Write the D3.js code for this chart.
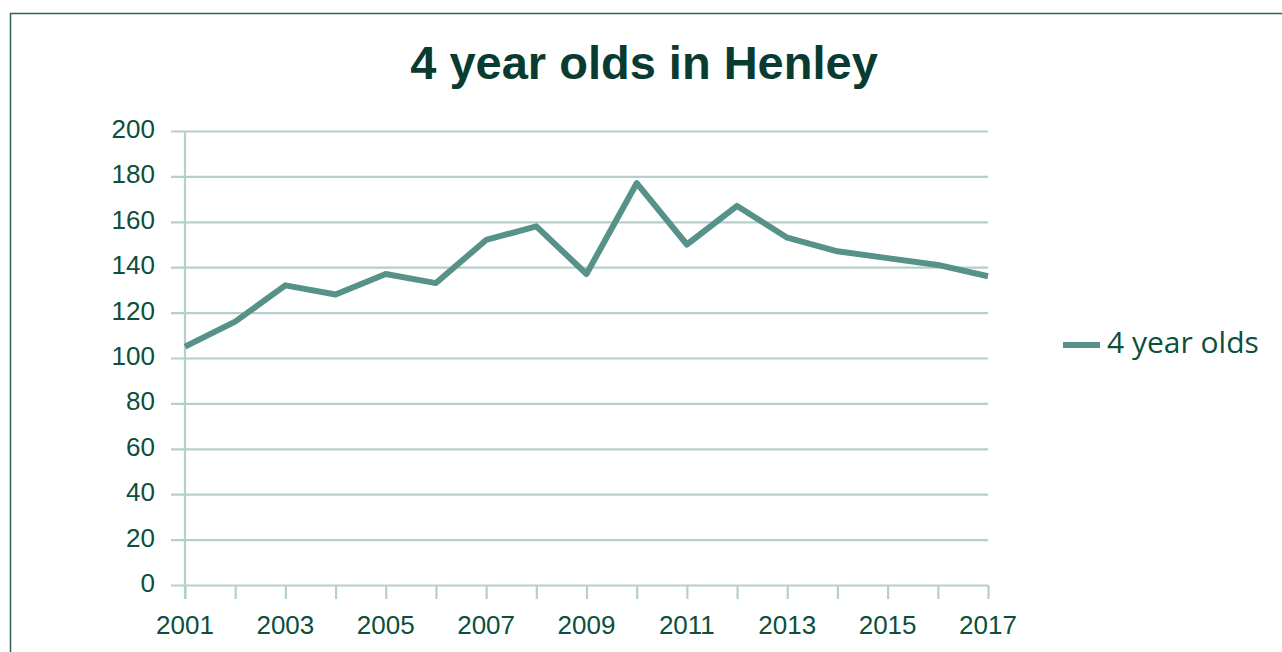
<!DOCTYPE html>
<html>
<head>
<meta charset="utf-8">
<script src="https://cdn.jsdelivr.net/npm/d3@7"></script>
<style>
  body { margin: 0; background: #fff; }
  svg { display: block; }
</style>
</head>
<body>
<div id="chart"></div>
<script>
const years = [2001, 2002, 2003, 2004, 2005, 2006, 2007, 2008, 2009, 2010, 2011, 2012, 2013, 2014, 2015, 2016, 2017];
const fourYearOlds = [105, 116, 132, 128, 137, 133, 152, 158, 137, 177, 150, 167, 153, 147, 144, 141, 136];
const yTicks = [0, 20, 40, 60, 80, 100, 120, 140, 160, 180, 200];
const yearLabels = [2001, 2003, 2005, 2007, 2009, 2011, 2013, 2015, 2017];
const seriesName = "4 year olds";
const title = "4 year olds in Henley";

const width = 1282, height = 652;
const margin = { top: 131, right: 294, bottom: 67, left: 185 };

const textColor = "#0b4f3c";
const gridColor = "#b5d0ca";
const lineColor = "#56918a";

const svg = d3.select("#chart")
  .append("svg")
  .attr("width", width)
  .attr("height", height);

// frame
svg.append("rect")
  .attr("x", 10.5)
  .attr("y", 13.5)
  .attr("width", width)
  .attr("height", height)
  .attr("fill", "none")
  .attr("stroke", "#2f5f58")
  .attr("stroke-width", 1.5);

svg.append("text")
  .attr("x", 644)
  .attr("y", 79)
  .attr("text-anchor", "middle")
  .attr("font-family", "Liberation Sans, Arial, sans-serif")
  .attr("font-weight", "bold")
  .attr("font-size", 47)
  .attr("fill", "#0a3b31")
  .text(title);

const x = d3.scaleLinear()
  .domain(d3.extent(years))
  .range([margin.left, width - margin.right]);

const y = d3.scaleLinear()
  .domain([0, 200])
  .range([height - margin.bottom, margin.top]);

// horizontal gridlines with left tick stubs
svg.append("g")
    .attr("transform", `translate(${margin.left},0)`)
    .call(d3.axisLeft(y).tickValues(yTicks).tickSize(-(x.range()[1] - x.range()[0])).tickFormat(""))
    .call(g => g.select(".domain").remove())
    .call(g => g.selectAll(".tick line")
      .attr("x1", -14)
      .attr("stroke", gridColor)
      .attr("stroke-width", 2.2));

// y labels
svg.append("g")
  .selectAll("text")
  .data(yTicks)
  .join("text")
    .attr("x", 155)
    .attr("y", d => y(d) + 7)
    .attr("text-anchor", "end")
    .attr("font-family", "Liberation Sans, Arial, sans-serif")
    .attr("font-size", 26)
    .attr("fill", textColor)
    .text(d => d);

// vertical axis line
svg.append("line")
  .attr("x1", margin.left).attr("x2", margin.left)
  .attr("y1", y(200)).attr("y2", y(0) + 14)
  .attr("stroke", gridColor)
  .attr("stroke-width", 2.2);

// x ticks
svg.append("g")
  .attr("transform", `translate(0,${y(0)})`)
  .call(d3.axisBottom(x).tickValues(years).tickSize(14).tickFormat(""))
  .call(g => g.select(".domain").remove())
  .call(g => g.selectAll(".tick line").attr("stroke", gridColor).attr("stroke-width", 2.2));

svg.append("g")
  .selectAll("text")
  .data(yearLabels)
  .join("text")
    .attr("x", d => x(d))
    .attr("y", 634)
    .attr("text-anchor", "middle")
    .attr("font-family", "Liberation Sans, Arial, sans-serif")
    .attr("font-size", 26)
    .attr("fill", textColor)
    .text(d => d);

const line = d3.line()
  .x((d, i) => x(years[i]))
  .y(d => y(d));

svg.append("path")
  .datum(fourYearOlds)
  .attr("fill", "none")
  .attr("stroke", lineColor)
  .attr("stroke-width", 6)
  .attr("stroke-linejoin", "round")
  .attr("d", line);

// legend
const legend = svg.append("g").attr("transform", "translate(1063,345)");
legend.append("line")
  .attr("x1", 0).attr("x2", 37)
  .attr("stroke", lineColor)
  .attr("stroke-width", 6);
legend.append("text")
  .attr("x", 44)
  .attr("y", 8)
  .attr("font-family", "Open Sans, Lato, sans-serif")
  .attr("font-size", 30)
  .attr("fill", textColor)
  .text(seriesName);
</script>
</body>
</html>
